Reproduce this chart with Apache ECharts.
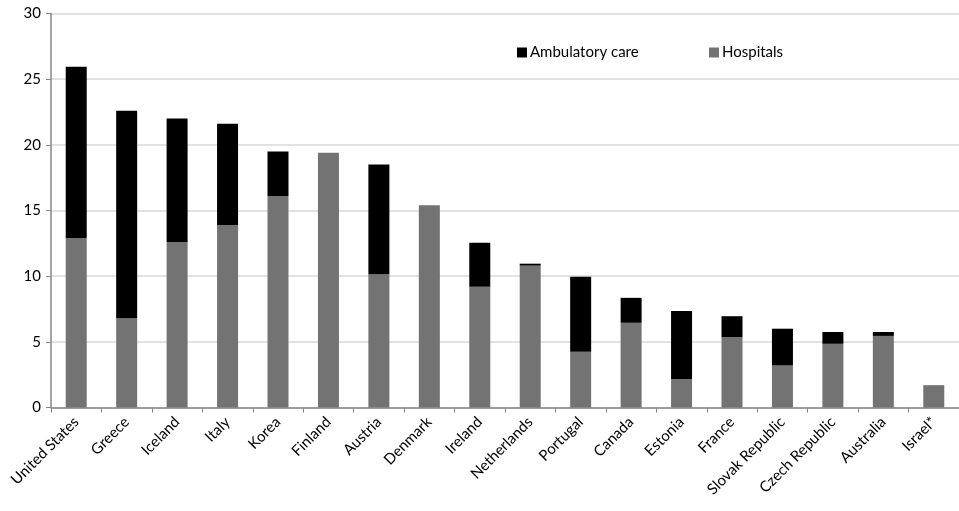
<!DOCTYPE html>
<html>
<head>
<meta charset="utf-8">
<script src="https://cdn.jsdelivr.net/npm/echarts@6/dist/echarts.min.js"></script>
<style>
  html, body { margin: 0; padding: 0; background: #fff; }
  #chart { width: 959px; height: 511px; }
</style>
</head>
<body>
<div id="chart"></div>
<script>
// Countries, ordered by total
const countries = ['United States', 'Greece', 'Iceland', 'Italy', 'Korea', 'Finland', 'Austria', 'Denmark',
  'Ireland', 'Netherlands', 'Portugal', 'Canada', 'Estonia', 'France', 'Slovak Republic',
  'Czech Republic', 'Australia', 'Israel*'];

// Hospital component
const hospitals = [12.9, 6.8, 12.6, 13.9, 16.1, 19.4, 10.15, 15.4,
  9.2, 10.8, 4.25, 6.45, 2.15, 5.35, 3.2, 4.85, 5.45, 1.7];

// Ambulatory care component (stacked on top)
const ambulatory = [13.05, 15.8, 9.4, 7.7, 3.4, 0, 8.35, 0,
  3.35, 0.15, 5.7, 1.9, 5.2, 1.6, 2.8, 0.9, 0.3, 0];

const yTicks = { min: 0, max: 30, interval: 5 };

const FONT = 'Lato, "Open Sans", sans-serif';

const chart = echarts.init(document.getElementById('chart'), null, { renderer: 'canvas' });

chart.setOption({
  animation: false,
  backgroundColor: '#ffffff',
  textStyle: { fontFamily: FONT },
  grid: { left: 51, top: 13.5, width: 911, height: 394, containLabel: false },
  legend: [
    {
      data: ['Ambulatory care'],
      left: 512, top: 40,
      itemWidth: 10, itemHeight: 10, itemGap: 0,
      icon: 'rect',
      textStyle: { fontFamily: FONT, fontSize: 15, color: '#000', padding: [0, 0, 0, -2] }
    },
    {
      data: ['Hospitals'],
      left: 704, top: 40,
      itemWidth: 10, itemHeight: 10, itemGap: 0,
      icon: 'rect',
      textStyle: { fontFamily: FONT, fontSize: 15, color: '#000', padding: [0, 0, 0, -2] }
    }
  ],
  xAxis: {
    type: 'category',
    data: countries,
    boundaryGap: true,
    axisLine: { show: true, lineStyle: { color: '#868686', width: 1.5 } },
    axisTick: { show: true, length: 5, alignWithLabel: false, lineStyle: { color: '#868686' } },
    axisLabel: {
      interval: 0, rotate: 45, margin: 12,
      fontFamily: FONT, fontSize: 15, color: '#000'
    },
    splitLine: { show: false }
  },
  yAxis: {
    type: 'value',
    min: yTicks.min, max: yTicks.max, interval: yTicks.interval,
    axisLine: { show: true, lineStyle: { color: '#868686', width: 1.5 } },
    axisTick: { show: true, length: 5, lineStyle: { color: '#868686' } },
    axisLabel: { margin: 10, fontFamily: FONT, fontSize: 15, color: '#000' },
    splitLine: { show: true, lineStyle: { color: '#d9d9d9', width: 1.5 } }
  },
  series: [
    {
      name: 'Hospitals',
      type: 'bar',
      stack: 'total',
      data: hospitals,
      barWidth: 21,
      itemStyle: { color: '#737373' }
    },
    {
      name: 'Ambulatory care',
      type: 'bar',
      stack: 'total',
      data: ambulatory,
      barWidth: 21,
      itemStyle: { color: '#000000' }
    }
  ]
});
</script>
</body>
</html>
